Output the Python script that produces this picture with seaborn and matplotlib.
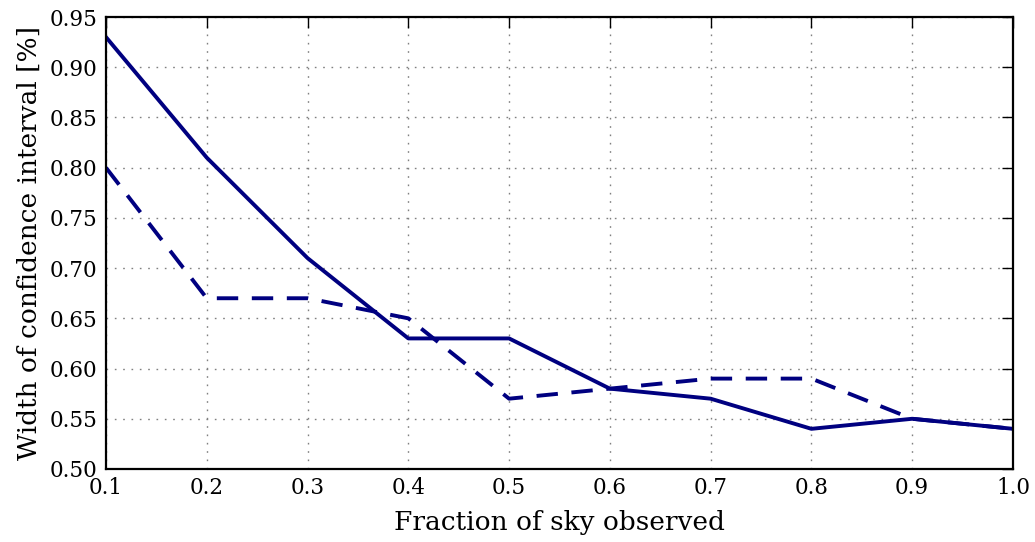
import matplotlib
matplotlib.use("Agg")
import matplotlib.pyplot as plt
import seaborn as sns
import pandas as pd

sky_fraction = [0.1, 0.2, 0.3, 0.4, 0.5, 0.6, 0.7, 0.8, 0.9, 1.0]
width_solid = [0.93, 0.81, 0.71, 0.63, 0.63, 0.58, 0.57, 0.54, 0.55, 0.54]
width_dashed = [0.80, 0.67, 0.67, 0.65, 0.57, 0.58, 0.59, 0.59, 0.55, 0.54]
x_ticks = [0.1, 0.2, 0.3, 0.4, 0.5, 0.6, 0.7, 0.8, 0.9, 1.0]
y_ticks = [0.50, 0.55, 0.60, 0.65, 0.70, 0.75, 0.80, 0.85, 0.90, 0.95]

sns.set_style("white")
plt.rcParams["font.family"] = ["DejaVu Serif"]
plt.rcParams["text.color"] = "black"
plt.rcParams["axes.labelcolor"] = "black"
plt.rcParams["xtick.color"] = "black"
plt.rcParams["ytick.color"] = "black"
plt.rcParams["xtick.direction"] = "in"
plt.rcParams["ytick.direction"] = "in"

df = pd.DataFrame({"fraction": sky_fraction, "solid": width_solid, "dashed": width_dashed})

fig = plt.figure(figsize=(10.35, 5.42), dpi=100)
ax = fig.add_axes([0.1024, 0.1347, 0.8763, 0.8339])

navy = "#000080"
sns.lineplot(data=df, x="fraction", y="solid", ax=ax, color=navy, linewidth=2.8)
sns.lineplot(data=df, x="fraction", y="dashed", ax=ax, color=navy, linewidth=2.8)
ax.lines[-1].set_dashes([5.5, 3.5])

ax.set_xlim(0.1, 1.0)
ax.set_ylim(0.50, 0.95)
ax.set_xticks(x_ticks)
ax.set_yticks(y_ticks)
ax.set_xticklabels([f"{v:.1f}" for v in x_ticks])
ax.set_yticklabels([f"{v:.2f}" for v in y_ticks])
ax.tick_params(axis="both", which="major", labelsize=15.5, length=8, width=1,
               top=True, right=True, pad=6, colors="black")
ax.grid(True, color="#808080", linestyle=(0, (1.2, 4.8)), linewidth=1)
for s in ax.spines.values():
    s.set_visible(True)
    s.set_linewidth(1.6)
    s.set_color("black")

ax.set_xlabel("Fraction of sky observed", fontsize=19, labelpad=8)
ax.set_ylabel("Width of confidence interval [%]", fontsize=19, labelpad=6)

fig.savefig("out.png", dpi=100, facecolor="white")
